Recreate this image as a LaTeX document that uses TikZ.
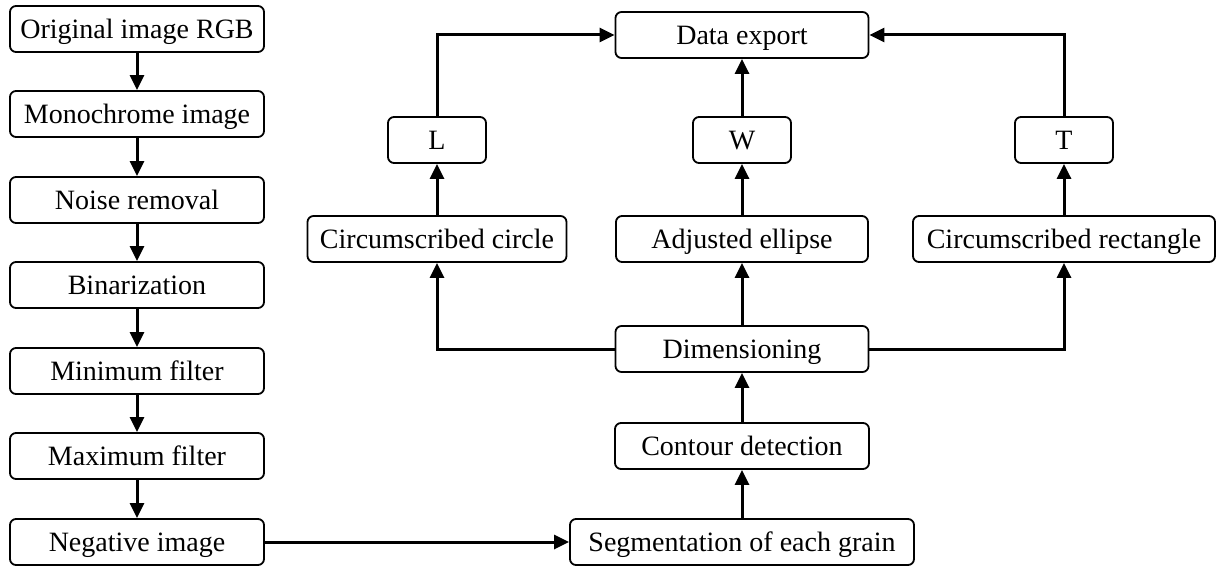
\documentclass[tikz,border=0pt]{standalone}
\usepackage{fontspec}
\setmainfont{Liberation Serif}
\usetikzlibrary{arrows.meta}
\begin{document}
\begin{tikzpicture}[x=1pt,y=-1pt,
  box/.style={draw, line width=1.8pt, rounded corners=6pt, minimum height=46pt, inner sep=0pt,
    text height=27.5pt, text depth=9pt,
    font=\fontsize{28}{30}\selectfont, anchor=center},
  conn/.style={line width=3pt, -{Triangle[length=15pt,width=14pt]}}]
\useasboundingbox (0,0) rectangle (1219,567);
% left column
\node[box, minimum width=254pt] (o)   at (137,29)  {Original image RGB};
\node[box, minimum width=254pt] (mo)  at (137,114) {Monochrome image};
\node[box, minimum width=254pt] (nr)  at (137,200) {Noise removal};
\node[box, minimum width=254pt] (bi)  at (137,285) {Binarization};
\node[box, minimum width=254pt] (mi)  at (137,371) {Minimum filter};
\node[box, minimum width=254pt] (ma)  at (137,456) {Maximum filter};
\node[box, minimum width=254pt] (ne)  at (137,542) {Negative image};
% right part
\node[box, minimum width=253pt] (de)  at (742,35)  {Data export};
\node[box, minimum width=98pt]  (L)   at (437,140) {L};
\node[box, minimum width=98pt]  (W)   at (742,140) {W};
\node[box, minimum width=98pt]  (T)   at (1064,140) {T};
\node[box, minimum width=259pt] (cc)  at (437,239) {Circumscribed circle};
\node[box, minimum width=252pt] (ae)  at (742,239) {Adjusted ellipse};
\node[box, minimum width=302pt] (cr)  at (1064,239) {Circumscribed rectangle};
\node[box, minimum width=253pt] (dim) at (742,349) {Dimensioning};
\node[box, minimum width=254pt] (cd)  at (742,446) {Contour detection};
\node[box, minimum width=344pt] (seg) at (742,542) {Segmentation of each grain};
% left chain
\draw[conn] (o) -- (mo);
\draw[conn] (mo) -- (nr);
\draw[conn] (nr) -- (bi);
\draw[conn] (bi) -- (mi);
\draw[conn] (mi) -- (ma);
\draw[conn] (ma) -- (ne);
\draw[conn] (ne) -- (seg);
% middle column
\draw[conn] (seg) -- (cd);
\draw[conn] (cd) -- (dim);
\draw[conn] (dim) -- (ae);
\draw[conn] (ae) -- (W);
\draw[conn] (W) -- (de);
% branches
\draw[conn] (dim.west) -| (cc.south);
\draw[conn] (dim.east) -| (cr.south);
\draw[conn] (cc) -- (L);
\draw[conn] (cr) -- (T);
\draw[conn] (L.north) |- (de.west);
\draw[conn] (T.north) |- (de.east);
\end{tikzpicture}
\end{document}
